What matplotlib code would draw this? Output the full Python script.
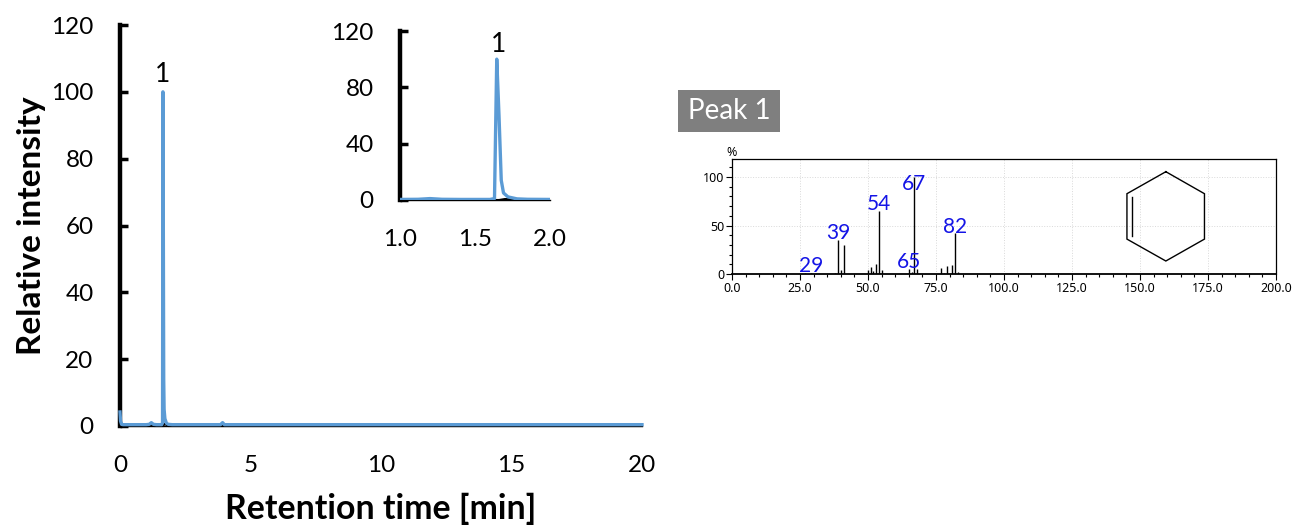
# peak 1 chromatogram with inset and its mass spectrum

import matplotlib
matplotlib.use("Agg")
import matplotlib.pyplot as plt
from matplotlib.patches import Rectangle
from matplotlib.ticker import MultipleLocator, FormatStrFormatter

# figure appearance
WIDTH = 1297
HEIGHT = 525
DPI = 100
BLUE = "#5B9BD5"
plt.rcParams["font.family"] = ["Lato", "DejaVu Sans"]

# chromatogram
time = [0, 0.02, 0.06, 0.12, 1.0, 1.12, 1.2, 1.28, 1.4, 1.6, 1.63, 1.645, 1.66,
        1.675, 1.69, 1.72, 1.78, 1.85, 2.0, 3.85, 3.93, 4.0, 8, 14, 20]
intensity = [4.2, 1.5, 0.5, 0.4, 0.4, 0.5, 1.0, 0.5, 0.4, 0.4, 1.0, 100, 60,
             14, 5, 2.2, 0.8, 0.5, 0.4, 0.4, 1.0, 0.4, 0.4, 0.4, 0.4]
blankTime = [0, 1.15, 1.22, 1.3, 1.66, 1.7, 1.76, 1.85, 20]
blankIntensity = [0, 0, 0.5, 0, 0, 0.7, 0.4, 0, 0]
peakLabel = "1"
peakLabelTime = 1.645
peakLabelHeight = 101.5

mainYTicks = [0, 20, 40, 60, 80, 100, 120]
mainXTicks = [0, 5, 10, 15, 20]
insetYTicks = [0, 40, 80, 120]
insetXTicks = [1.0, 1.5, 2.0]

# mass spectrum
mz = [27, 29, 38, 39, 40, 41, 50, 51, 52, 53, 54, 55, 65, 66, 67, 68, 77, 78, 79, 81, 82, 83]
abundance = [1, 1, 1.5, 35, 4, 30, 4, 7, 3, 10, 65, 4, 5, 2, 100, 5, 6, 1, 8, 9, 42, 2]
labelMz = [29, 39, 54, 65, 67, 82]
labelHeight = [-2, 32, 62, 2, 82.5, 38.5]
specXTicks = [0, 25, 50, 75, 100, 125, 150, 175, 200]
specYTicks = [0, 50, 100]

# cyclohexene drawing in spectrum data units
ringX = [159.5, 173.7, 173.7, 159.5, 145.2, 145.2, 159.5]
ringY = [105.5, 82.8, 36, 13.4, 36, 82.8, 105.5]
doubleBondX = [147.2, 147.2]
doubleBondY = [79.7, 39]


def pixelAxes(fig, left, top, right, bottom):
    """ Adds axes placed by pixel edges of the picture. """
    return fig.add_axes([left / WIDTH, 1 - bottom / HEIGHT,
                         (right - left) / WIDTH, (bottom - top) / HEIGHT])


def styleChrom(ax, tickWidth, spineWidth, tickLen):
    for side in ["top", "right"]:
        ax.spines[side].set_visible(False)
    ax.spines["left"].set_linewidth(spineWidth)
    ax.spines["bottom"].set_linewidth(1.0)
    ax.tick_params(axis="y", direction="in", length=tickLen, width=tickWidth,
                   labelsize=17.5, pad=19)
    ax.tick_params(axis="x", length=0, labelsize=17.5, pad=21)
    ax.patch.set_alpha(0)


fig = plt.figure(figsize=(WIDTH / DPI, HEIGHT / DPI), dpi=DPI)

# main chromatogram
ax = pixelAxes(fig, 120, 25, 642, 426)
ax.plot(blankTime, blankIntensity, color="black", lw=1.5, clip_on=False)
ax.plot(time, intensity, color=BLUE, lw=2.4, clip_on=False, zorder=3)
ax.set_xlim(0, 20)
ax.set_ylim(0, 120)
ax.set_xticks(mainXTicks)
ax.set_yticks(mainYTicks)
styleChrom(ax, 2.5, 3.2, 6)
ax.text(peakLabelTime, peakLabelHeight, peakLabel, ha="center", va="bottom", fontsize=19)
ax.set_xlabel("Retention time [min]", fontsize=24.4, fontweight="bold", labelpad=12)
ax.set_ylabel("Relative intensity", fontsize=24, fontweight="bold", labelpad=4)

# zoomed inset
inset = pixelAxes(fig, 400, 31, 550, 200)
inset.plot(blankTime, blankIntensity, color="black", lw=1.5)
inset.plot(time, intensity, color=BLUE, lw=2.4, zorder=3)
inset.set_xlim(1, 2)
inset.set_ylim(0, 120)
inset.set_xticks(insetXTicks)
inset.set_yticks(insetYTicks)
inset.xaxis.set_major_formatter(FormatStrFormatter("%.1f"))
styleChrom(inset, 2.5, 3.2, 6)
inset.text(peakLabelTime + 0.01, peakLabelHeight, peakLabel, ha="center", va="bottom", fontsize=19)

# peak heading box
fig.add_artist(Rectangle((678 / WIDTH, 1 - 132 / HEIGHT), 102 / WIDTH, 42 / HEIGHT,
                         transform=fig.transFigure, facecolor="#7F7F7F", edgecolor="none"))
fig.text(729 / WIDTH, 1 - 111 / HEIGHT, "Peak 1", color="white", fontsize=20,
         ha="center", va="center")

# mass spectrum
spec = pixelAxes(fig, 732, 159, 1276, 274)
spec.vlines(mz, 0, abundance, color="black", lw=1.0)
spec.set_xlim(0, 200)
spec.set_ylim(0, 118.6)
spec.set_xticks(specXTicks)
spec.set_yticks(specYTicks)
spec.xaxis.set_major_formatter(FormatStrFormatter("%.1f"))
spec.xaxis.set_minor_locator(MultipleLocator(5))
spec.yaxis.set_minor_locator(MultipleLocator(10))
spec.tick_params(axis="both", which="major", length=4, width=0.8, labelsize=9,
                 pad=1.5, labelfontfamily="Noto Sans")
spec.tick_params(axis="both", which="minor", length=2, width=0.8)
spec.grid(True, which="major", color="#D9D9D9", lw=0.7, ls=":")
spec.set_axisbelow(True)
for name in spec.spines:
    spec.spines[name].set_linewidth(0.9)
spec.spines["bottom"].set_linewidth(1.3)
for m, h in zip(labelMz, labelHeight):
    spec.text(m, h, str(m), color="#1414E6", fontsize=15, ha="center", va="bottom")
spec.text(0, 119, "%", fontsize=9, ha="center", va="bottom", family="Noto Sans")

# molecule
spec.plot(ringX, ringY, color="black", lw=1.0, solid_joinstyle="miter")
spec.plot(doubleBondX, doubleBondY, color="black", lw=1.0)

fig.savefig("out.png", dpi=DPI)
